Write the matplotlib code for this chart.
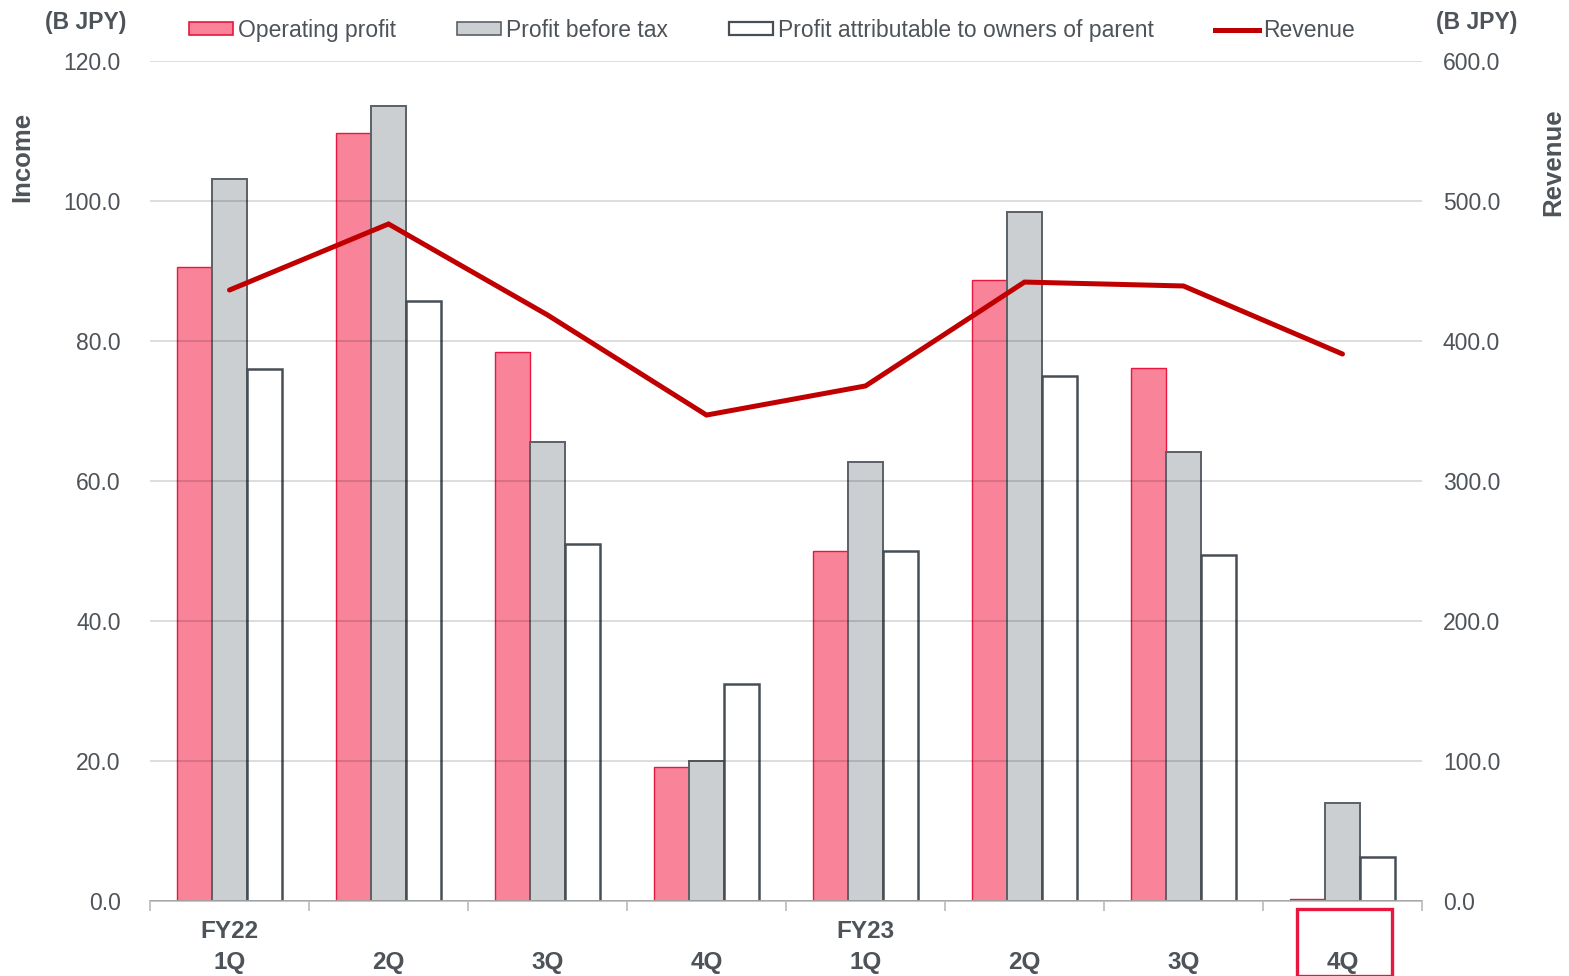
import numpy as np
import matplotlib.pyplot as plt
from matplotlib.patches import Rectangle
from matplotlib.lines import Line2D

plt.rcParams['font.family'] = ['Liberation Sans', 'DejaVu Sans']

quarters = ['1Q', '2Q', '3Q', '4Q', '1Q', '2Q', '3Q', '4Q']
fiscal_years = ['FY22', '', '', '', 'FY23', '', '', '']
operating_profit = [90.6, 109.7, 78.4, 19.1, 50.0, 88.7, 76.1, 0.3]
profit_before_tax = [103.1, 113.6, 65.6, 20.0, 62.7, 98.4, 64.1, 14.0]
profit_owners = [76.0, 85.7, 51.0, 31.0, 50.0, 75.0, 49.4, 6.3]
revenue = [436.4, 483.6, 418.6, 347.1, 367.9, 442.1, 439.3, 390.7]

TEXT = '#4d5358'
OP_FILL, OP_EDGE = '#f98398', '#e8173f'
PBT_FILL, PBT_EDGE = '#cccfd2', '#5a6166'
OWN_EDGE = '#474f55'
REV = '#c00000'

W, H = 1569, 976
fig = plt.figure(figsize=(W / 100, H / 100), dpi=100)
ax = fig.add_axes([150 / W, 1 - 901 / H, 1272 / W, 840 / H])
ax2 = ax.twinx()

x = np.arange(len(quarters))
w = 0.215
ax.bar(x - w - 0.005, operating_profit, w, color=OP_FILL, edgecolor=OP_EDGE, linewidth=1.0, zorder=2)
ax.bar(x, profit_before_tax, w, color=PBT_FILL, edgecolor=PBT_EDGE, linewidth=1.4, zorder=2)
ax.bar(x + w + 0.005, profit_owners, w, color='white', edgecolor=OWN_EDGE, linewidth=1.8, zorder=2)

ax2.plot(x, revenue, color=REV, linewidth=3.6, solid_capstyle='round', solid_joinstyle='miter')

ax.set_xlim(-0.5, len(quarters) - 0.5)
ax.set_ylim(0, 120)
ax2.set_ylim(0, 600)
ax.set_yticks(np.arange(0, 121, 20))
ax2.set_yticks(np.arange(0, 601, 100))
ax.set_yticklabels([f'{v:.1f}' for v in np.arange(0, 121, 20)])
ax2.set_yticklabels([f'{v:.1f}' for v in np.arange(0, 601, 100)])
ax.tick_params(axis='y', length=0, labelsize=16.5, labelcolor=TEXT, pad=21)
ax2.tick_params(axis='y', length=0, labelsize=16.5, labelcolor=TEXT, pad=15)

# gridlines sit over the bars, faintly
ax.set_axisbelow(False)
ax.yaxis.grid(True, color='black', alpha=0.15, linewidth=1.3, zorder=3)

for a in (ax, ax2):
    for s in ('top', 'left', 'right'):
        a.spines[s].set_visible(False)
ax.spines['bottom'].set_color('#bfbfbf')
ax.spines['bottom'].set_linewidth(1.3)
ax2.spines['bottom'].set_visible(False)

ax.set_xticks(np.arange(-0.5, len(quarters), 1.0))
ax.set_xticklabels([])
ax.tick_params(axis='x', length=7, color='#bfbfbf', width=1.3, direction='out')

# two-row category labels: fiscal year above, quarter below
for i, (fy, q) in enumerate(zip(fiscal_years, quarters)):
    xf = (150 + 1272 * (i + 0.5) / len(quarters)) / W
    if fy:
        fig.text(xf, 1 - 932 / H, fy, ha='center', va='center', fontsize=17.5,
                 fontweight='bold', color=TEXT)
    fig.text(xf, 1 - 962 / H, q, ha='center', va='center', fontsize=17.5,
             fontweight='bold', color=TEXT)

# highlight box around the latest quarter
fig.patches.append(Rectangle((1297 / W, 0), 95 / W, 67 / H, transform=fig.transFigure,
                             fill=False, edgecolor=OP_EDGE, linewidth=2.4))

fig.text(86 / W, 1 - 22 / H, '(B JPY)', ha='center', va='center', fontsize=16.5,
         fontweight='bold', color=TEXT)
fig.text(1477 / W, 1 - 22 / H, '(B JPY)', ha='center', va='center', fontsize=16.5,
         fontweight='bold', color=TEXT)
fig.text(22 / W, 1 - 157 / H, 'Income', ha='center', va='center', rotation=90,
         fontsize=18.5, fontweight='bold', color=TEXT)
fig.text(1553 / W, 1 - 162 / H, 'Revenue', ha='center', va='center', rotation=90,
         fontsize=18.5, fontweight='bold', color=TEXT)

handles = [
    Rectangle((0, 0), 1, 1, facecolor=OP_FILL, edgecolor=OP_EDGE, linewidth=1.2),
    Rectangle((0, 0), 1, 1, facecolor=PBT_FILL, edgecolor=PBT_EDGE, linewidth=1.2),
    Rectangle((0, 0), 1, 1, facecolor='white', edgecolor=OWN_EDGE, linewidth=1.6),
    Line2D([0], [0], color=REV, linewidth=3.6),
]
labels = ['Operating profit', 'Profit before tax', 'Profit attributable to owners of parent', 'Revenue']
fig.legend(handles, labels, ncol=4, loc='center', bbox_to_anchor=(772 / W, 1 - 30.5 / H),
           frameon=False, fontsize=16.5, labelcolor=TEXT, handlelength=1.92, handleheight=0.5,
           handletextpad=0.22, columnspacing=2.66, borderpad=0, borderaxespad=0)

fig.savefig('out.png', dpi=100)
